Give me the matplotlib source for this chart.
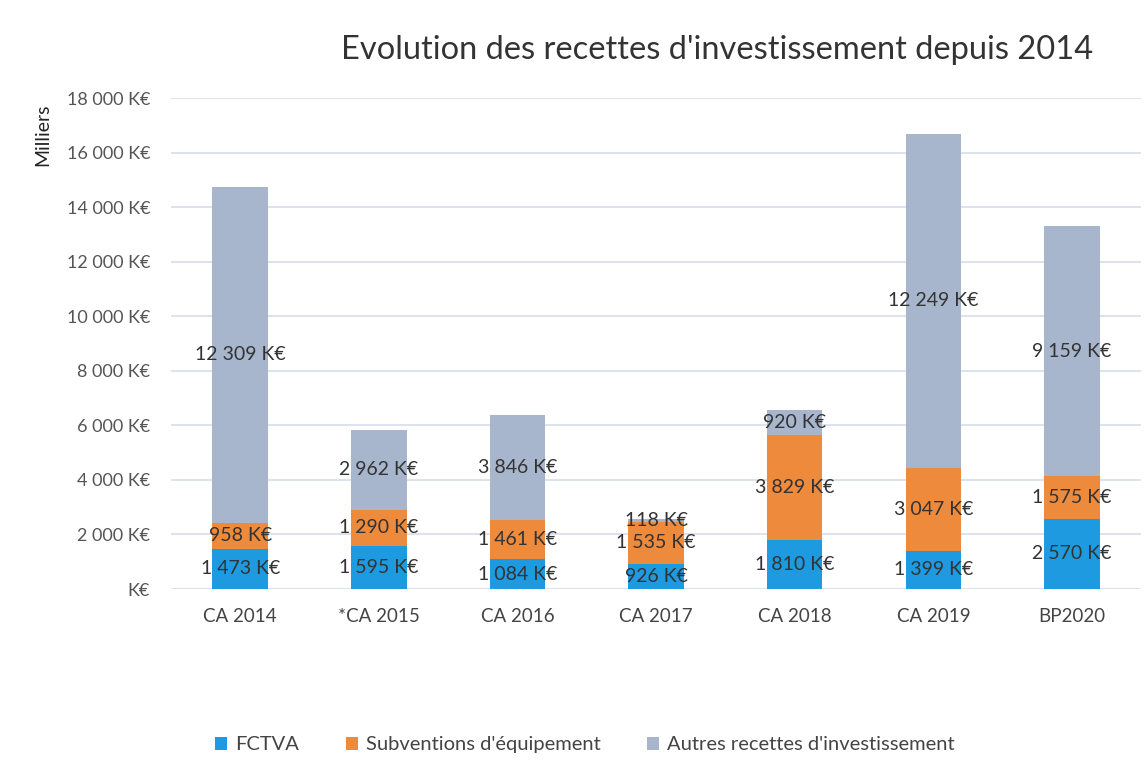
import numpy as np
import matplotlib.pyplot as plt

categories = ['CA 2014', '*CA 2015', 'CA 2016', 'CA 2017', 'CA 2018', 'CA 2019', 'BP2020']
fctva = [1473, 1595, 1084, 926, 1810, 1399, 2570]
subventions = [958, 1290, 1461, 1535, 3829, 3047, 1575]
autres = [12309, 2962, 3846, 118, 920, 12249, 9159]
series_names = ['FCTVA', "Subventions d'équipement", "Autres recettes d'investissement"]
yticks = [2000 * i for i in range(10)]

colors = ['#1E9AE0', '#EE8A3C', '#A7B6CC']

plt.rcParams['font.family'] = ['Lato', 'DejaVu Sans']

def fmt(v):
    s = f"{v:,}".replace(',', ' ')
    return f"{s} K€"

fig = plt.figure(figsize=(11.47, 7.72), dpi=100)
fig.patch.set_facecolor('white')
ax = fig.add_axes([0.149, 0.237, 0.846, 0.636])

x = np.arange(len(categories))
w = 0.4
bottom = np.zeros(len(categories))
for vals, col, name in zip([fctva, subventions, autres], colors, series_names):
    vals = np.array(vals)
    ax.bar(x, vals, w, bottom=bottom, color=col, label=name, zorder=2)
    for xi, b, v in zip(x, bottom, vals):
        ax.text(xi, b + v / 2, fmt(v), ha='center', va='center',
                fontsize=14, color='#333333', zorder=3)
    bottom += vals

ax.set_xlim(-0.5, 6.5)
ax.set_ylim(0, 18000)
ax.set_yticks(yticks)
ax.set_yticklabels(['K€'] + [fmt(t) for t in yticks[1:]], fontsize=13, color='#555555')
ax.set_xticks(x)
ax.set_xticklabels(categories, fontsize=13.5, color='#444444')
ax.tick_params(axis='y', length=0, pad=15)
ax.tick_params(axis='x', length=0, pad=14)
ax.yaxis.grid(True, color='#D6DEEA', linewidth=1.2, zorder=0)
for sp in ax.spines.values():
    sp.set_visible(False)

fig.text(0.037, 0.825, 'Milliers', rotation=90, fontsize=14, color='#222222',
         ha='center', va='center')
fig.text(0.625, 0.935, "Evolution des recettes d'investissement depuis 2014",
         fontsize=23.5, color='#333333', ha='center', va='center')

fig.legend(loc='center', bbox_to_anchor=(0.51, 0.035), ncol=3, frameon=False,
           fontsize=14.5, handlelength=0.6, handleheight=0.6, columnspacing=2.3,
           handletextpad=0.4, labelcolor='#444444')

fig.savefig('out.png', dpi=100)
